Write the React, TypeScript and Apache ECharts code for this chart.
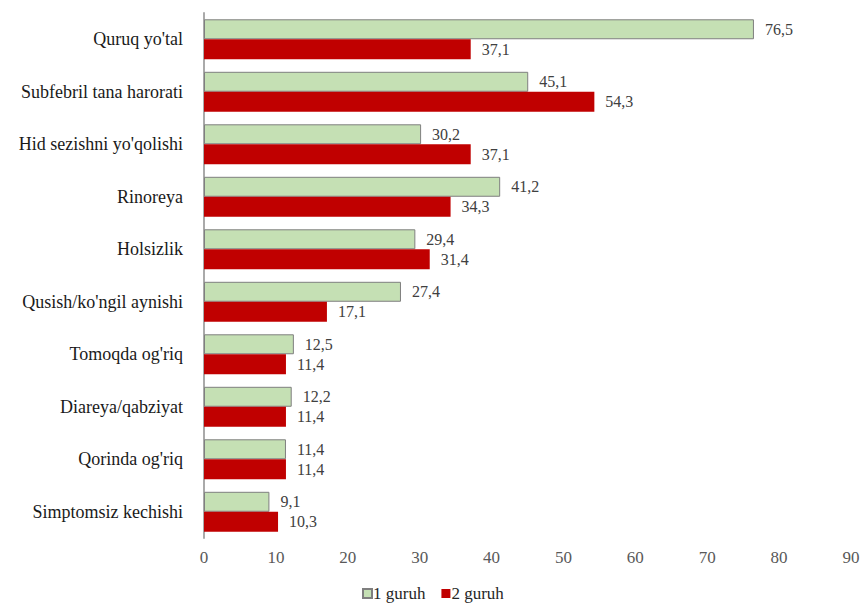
import React, { useEffect, useRef } from "react";
import * as echarts from "echarts";

// Symptoms, listed top to bottom
const categories = [
  "Quruq yo'tal",
  "Subfebril tana harorati",
  "Hid sezishni yo'qolishi",
  "Rinoreya",
  "Holsizlik",
  "Qusish/ko'ngil aynishi",
  "Tomoqda og'riq",
  "Diareya/qabziyat",
  "Qorinda og'riq",
  "Simptomsiz kechishi",
];

const group1 = [76.5, 45.1, 30.2, 41.2, 29.4, 27.4, 12.5, 12.2, 11.4, 9.1];
const group2 = [37.1, 54.3, 37.1, 34.3, 31.4, 17.1, 11.4, 11.4, 11.4, 10.3];

const seriesNames = ["1 guruh", "2 guruh"];
const xTicks = { min: 0, max: 90, interval: 10 };

const FONT = "Liberation Serif, Times New Roman, serif";

const fmt = (v: number) => v.toFixed(1).replace(".", ",");

export default function App() {
  const ref = useRef<HTMLDivElement>(null);

  useEffect(() => {
    if (!ref.current) return;
    const chart = echarts.init(ref.current, undefined, { renderer: "svg" });
    const valueLabel = {
      show: true,
      position: "right",
      distance: 11,
      formatter: (p: any) => fmt(p.value),
      fontFamily: FONT,
      fontSize: 16,
      color: "#404040",
    };
    chart.setOption({
      animation: false,
      backgroundColor: "#ffffff",
      textStyle: { fontFamily: FONT },
      grid: { left: 204, right: 12, top: 13, bottom: 69, containLabel: false },
      legend: {
        top: 585,
        left: 362,
        padding: 0,
        itemWidth: 9,
        itemHeight: 9,
        itemGap: 16,
        icon: "rect",
        textStyle: { fontFamily: FONT, fontSize: 17, color: "#262626", padding: [0, 0, 0, -4] },
        data: seriesNames,
      },
      xAxis: {
        type: "value",
        min: xTicks.min,
        max: xTicks.max,
        interval: xTicks.interval,
        axisLine: { show: false },
        axisTick: { show: false },
        splitLine: { show: false },
        axisLabel: { fontFamily: FONT, fontSize: 17, color: "#595959", margin: 11 },
      },
      yAxis: {
        type: "category",
        inverse: true,
        data: categories,
        axisLine: { show: true, lineStyle: { color: "#aaaaaa", width: 2 } },
        axisTick: { show: false },
        axisLabel: { fontFamily: FONT, fontSize: 18, color: "#1a1a1a", margin: 21 },
      },
      series: [
        {
          name: seriesNames[0],
          type: "bar",
          data: group1,
          barGap: "0%",
          barCategoryGap: "24%",
          itemStyle: { color: "#c5e0b4", borderColor: "#7f7f7f", borderWidth: 1 },
          label: valueLabel,
        },
        {
          name: seriesNames[1],
          type: "bar",
          data: group2,
          barGap: "0%",
          barCategoryGap: "24%",
          itemStyle: { color: "#c00000" },
          label: valueLabel,
        },
      ],
    });
    return () => chart.dispose();
  }, []);

  return (
    <div
      ref={ref}
      style={{ position: "fixed", top: 0, left: 0, width: 863, height: 607 }}
    />
  );
}
